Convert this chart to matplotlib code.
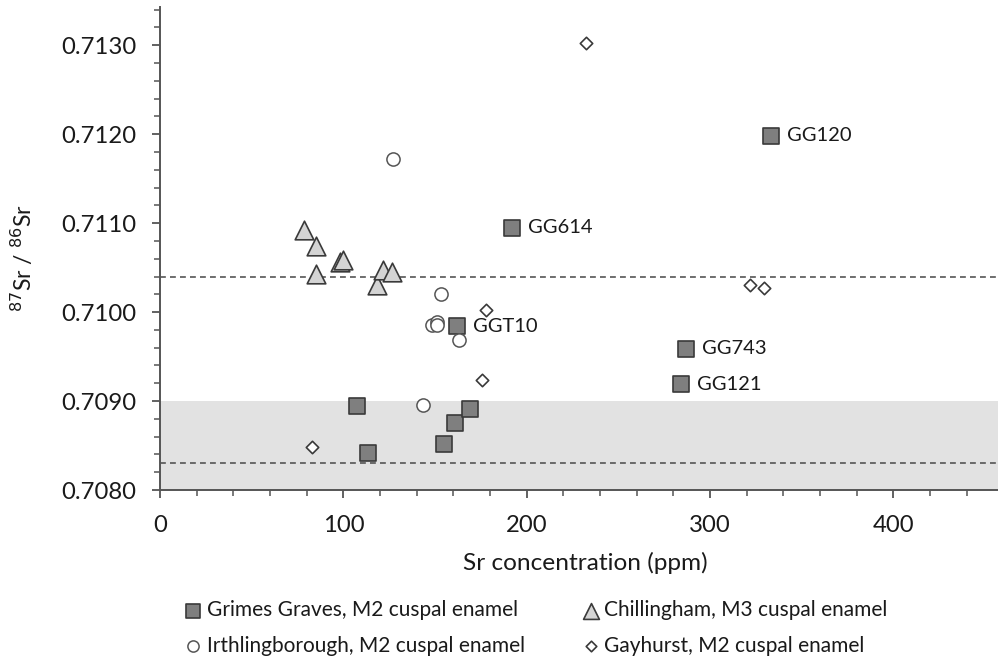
import matplotlib.pyplot as plt
from matplotlib.ticker import MultipleLocator, FormatStrFormatter

plt.rcParams['font.family'] = ['Lato', 'DejaVu Sans']

# Grimes Graves, M2 cuspal enamel
gg_sr = [333.4, 192.2, 161.9, 287.0, 284.3, 107.2, 113.2, 155.1, 161.1, 169.3]
gg_ratio = [0.71198, 0.71095, 0.70984, 0.70959, 0.70919, 0.70894, 0.70842, 0.70852, 0.70875, 0.70891]
gg_names = ['GG120', 'GG614', 'GGT10', 'GG743', 'GG121', '', '', '', '', '']

# Chillingham, M3 cuspal enamel
ch_sr = [78.5, 85.0, 85.0, 98.1, 99.9, 118.1, 121.4, 126.3]
ch_ratio = [0.71092, 0.71074, 0.71043, 0.71056, 0.71059, 0.71030, 0.71047, 0.71045]

# Irthlingborough, M2 cuspal enamel
ir_sr = [127.2, 153.3, 148.4, 150.8, 150.8, 163.1, 143.2]
ir_ratio = [0.71172, 0.71020, 0.70985, 0.70989, 0.70985, 0.70969, 0.70895]

# Gayhurst, M2 cuspal enamel
gy_sr = [232.2, 321.9, 329.2, 178.0, 175.7, 82.7]
gy_ratio = [0.71303, 0.71031, 0.71027, 0.71002, 0.70924, 0.70848]

band_lo, band_hi = 0.7080, 0.7090
ref_hi, ref_lo = 0.71040, 0.70830

fig = plt.figure(figsize=(9.98, 6.59), dpi=100)
ax = fig.add_axes([160/998, 1-490/659, 838/998, 483/659])

ax.axhspan(band_lo, band_hi, color='#e2e2e2', zorder=0, lw=0)
ax.axhline(ref_hi, color='#555555', lw=1.2, ls=(0, (3.5, 2.5)), zorder=1)
ax.axhline(ref_lo, color='#555555', lw=1.2, ls=(0, (3.5, 2.5)), zorder=1)

ax.scatter(gg_sr, gg_ratio, marker='s', s=130, c='#7f7f7f', edgecolors='#3a3a3a', linewidths=1.2, zorder=3,
           label='Grimes Graves, M2 cuspal enamel')
ax.scatter(ir_sr, ir_ratio, marker='o', s=90, c='white', edgecolors='#555555', linewidths=1.1, zorder=3,
           label='Irthlingborough, M2 cuspal enamel')
ax.scatter(ch_sr, ch_ratio, marker='^', s=180, c='#d4d4d4', edgecolors='#3a3a3a', linewidths=1.2, zorder=3,
           label='Chillingham, M3 cuspal enamel')
ax.scatter(gy_sr, gy_ratio, marker='D', s=40, c='white', edgecolors='#3a3a3a', linewidths=1.2, zorder=3,
           label='Gayhurst, M2 cuspal enamel')

for x, y, name in zip(gg_sr, gg_ratio, gg_names):
    if name:
        ax.annotate(name, (x, y), xytext=(11.5, 0), textcoords='offset points',
                    va='center', ha='left', fontsize=14.5, color='#1a1a1a')

ax.set_xlim(0, 457)
ax.set_ylim(0.7080, 0.71343)
ax.xaxis.set_major_locator(MultipleLocator(100))
ax.xaxis.set_minor_locator(MultipleLocator(20))
ax.yaxis.set_major_locator(MultipleLocator(0.001))
ax.yaxis.set_minor_locator(MultipleLocator(0.0002))
ax.yaxis.set_major_formatter(FormatStrFormatter('%.4f'))

for side in ['top', 'right']:
    ax.spines[side].set_visible(False)
for side in ['left', 'bottom']:
    ax.spines[side].set_color('#555555')
    ax.spines[side].set_linewidth(1.4)
ax.tick_params(which='major', length=6, width=1.3, color='#555555', labelsize=17.2, labelcolor='#1a1a1a')
ax.tick_params(axis='y', which='major', pad=11)
ax.tick_params(axis='x', which='major', pad=12)
ax.tick_params(which='minor', length=4.5, width=1.1, color='#555555')

fig.text(585/998, 1-563/659, 'Sr concentration (ppm)', ha='center', va='center', fontsize=17.6, color='#1a1a1a')
fig.text(23/998, 1-258/659, r'$^{87}$Sr / $^{86}$Sr', ha='center', va='center', rotation=90,
         fontsize=16.5, color='#1a1a1a')

fig.legend(loc='center left', bbox_to_anchor=(185/998, 1-628/659), ncol=2, frameon=False,
           fontsize=15.0, handlelength=0.8, handletextpad=0.25, columnspacing=2.75, labelspacing=0.72,
           markerscale=0.85, borderaxespad=0, borderpad=0, labelcolor='#1a1a1a')

fig.savefig('out.png', dpi=100)
